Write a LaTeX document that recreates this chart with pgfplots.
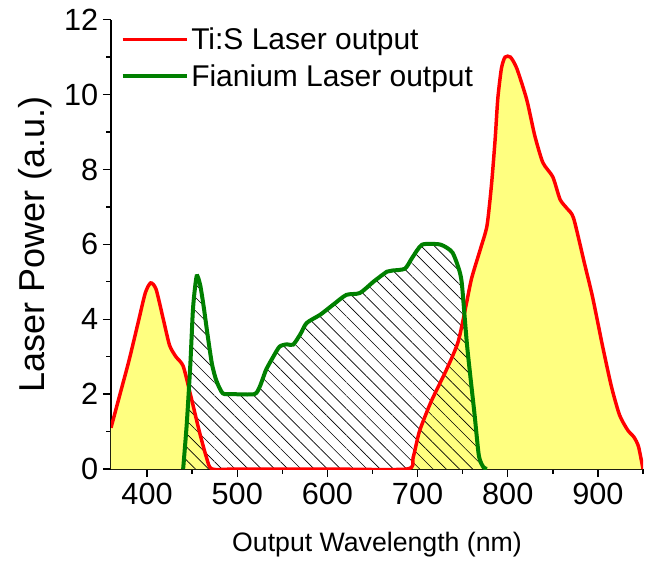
\documentclass[border=0pt]{standalone}
\usepackage{pgfplots}
\pgfplotsset{compat=1.18}
\usepackage{fontspec}
\setmainfont{Liberation Sans}
\usetikzlibrary{patterns.meta}

\definecolor{fillyel}{RGB}{255,255,128}
\definecolor{tisred}{RGB}{255,0,0}
\definecolor{figreen}{RGB}{0,128,0}

\begin{document}
\begin{tikzpicture}
\useasboundingbox (-83.25pt,-71.25pt) rectangle (402.75pt,351.75pt);
\begin{axis}[
  scale only axis,
  width=399pt, height=337pt,
  xmin=360, xmax=950, ymin=0, ymax=12,
  axis x line=bottom, axis y line=left,
  axis line style={-, line width=1pt},
  xtick={400,500,...,900}, minor xtick={450,550,...,950},
  ytick={0,2,...,12}, minor ytick={1,3,...,11},
  tick align=outside,
  major tick length=6pt, minor tick length=3.5pt,
  tick style={black, line width=1pt},
  /pgf/number format/assume math mode=true,
  tick label style={font=\fontsize{23}{27}\selectfont},
  xticklabel style={yshift=-1pt},
  xlabel={Output Wavelength (nm)},
  ylabel={Laser Power (a.u.)},
  xlabel style={font=\fontsize{20}{24}\selectfont, yshift=-14pt},
  ylabel style={font=\fontsize{27}{31}\selectfont, yshift=2pt},
  legend style={draw=none, fill=none, at={(0.01,0.995)}, anchor=north west,
                font=\fontsize{22.5}{27}\selectfont, row sep=6pt},
  legend cell align=left,
  legend image code/.code={\draw[#1] (0pt,0pt) -- (48pt,0pt);},
  clip=true,
]
% filled areas
\addplot[fill=fillyel, draw=none, smooth, tension=0.4, forget plot] coordinates {
 (360,1.1) (370,2.0) (380,2.9) (390,3.9) (398,4.7) (404,4.97) (410,4.8)
 (418,4.0) (425,3.3) (432,3.0) (440,2.75) (448,2.0) (458,1.0) (466,0.3)
 (472,0) (500,0) (600,0) (688,0) (695,0.3) (702,1.0) (715,1.8) (732,2.65)
 (745,3.4) (754,4.4) (760,5.1) (770,5.9) (777,6.5) (782,7.6) (786,8.8)
 (789,9.9) (793,10.7) (797,11.0) (803,11.0) (810,10.7) (821,9.87) (830,8.9)
 (839,8.18) (850,7.8) (858,7.2) (866,6.95) (873,6.7) (885,5.5) (894,4.6)
 (905,3.3) (915,2.2) (924,1.44) (933,1.04) (940,0.85) (945,0.6) (950,0)
} \closedcycle;
\addplot[pattern={Lines[angle=-45, distance=7pt, line width=0.5pt]}, draw=none,
  smooth, tension=0.4, forget plot] coordinates {
 (440,0) (444,1.2) (448,2.8) (451,4.3) (455,5.15) (459,4.9) (463,4.3)
 (467,3.6) (472,2.8) (477,2.35) (484,2.02) (495,2.0) (519,2.0) (525,2.2)
 (532,2.65) (540,3.0) (547,3.27) (555,3.33) (562,3.32) (570,3.6) (577,3.9)
 (592,4.12) (607,4.4) (621,4.65) (636,4.7) (651,5.0) (666,5.27) (672,5.3)
 (686,5.35) (694,5.64) (705,5.99) (724,6.0) (733,5.9) (739,5.77) (745,5.4)
 (749,4.97) (755,3.27) (763,1.5) (768,0.35) (773,0.05) (777,0)
} \closedcycle;
% outlines
\addplot[tisred, line width=2.6pt, smooth, tension=0.4] coordinates {
 (360,1.1) (370,2.0) (380,2.9) (390,3.9) (398,4.7) (404,4.97) (410,4.8)
 (418,4.0) (425,3.3) (432,3.0) (440,2.75) (448,2.0) (458,1.0) (466,0.3)
 (472,0) (500,0) (600,0) (688,0) (695,0.3) (702,1.0) (715,1.8) (732,2.65)
 (745,3.4) (754,4.4) (760,5.1) (770,5.9) (777,6.5) (782,7.6) (786,8.8)
 (789,9.9) (793,10.7) (797,11.0) (803,11.0) (810,10.7) (821,9.87) (830,8.9)
 (839,8.18) (850,7.8) (858,7.2) (866,6.95) (873,6.7) (885,5.5) (894,4.6)
 (905,3.3) (915,2.2) (924,1.44) (933,1.04) (940,0.85) (945,0.6) (950,0)
};
\addplot[figreen, line width=3pt, smooth, tension=0.4] coordinates {
 (440,0) (444,1.2) (448,2.8) (451,4.3) (455,5.15) (459,4.9) (463,4.3)
 (467,3.6) (472,2.8) (477,2.35) (484,2.02) (495,2.0) (519,2.0) (525,2.2)
 (532,2.65) (540,3.0) (547,3.27) (555,3.33) (562,3.32) (570,3.6) (577,3.9)
 (592,4.12) (607,4.4) (621,4.65) (636,4.7) (651,5.0) (666,5.27) (672,5.3)
 (686,5.35) (694,5.64) (705,5.99) (724,6.0) (733,5.9) (739,5.77) (745,5.4)
 (749,4.97) (755,3.27) (763,1.5) (768,0.35) (773,0.05) (777,0)
};
\legend{Ti:S Laser output, Fianium Laser output}
\end{axis}
\end{tikzpicture}
\end{document}
